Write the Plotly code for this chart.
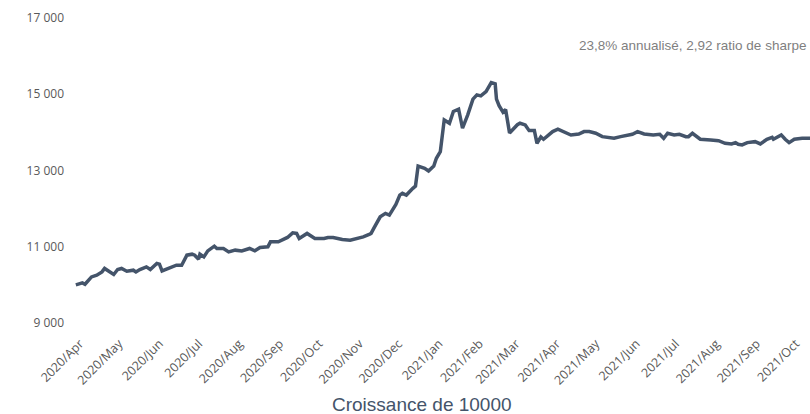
import plotly.graph_objects as go

dates = [
    "2020-04-01", "2020-04-06", "2020-04-08", "2020-04-13", "2020-04-17", "2020-04-21", "2020-04-23",
    "2020-04-27", "2020-04-30", "2020-05-03", "2020-05-06", "2020-05-10", "2020-05-15", "2020-05-17",
    "2020-05-20", "2020-05-25", "2020-05-28", "2020-06-02", "2020-06-04", "2020-06-06", "2020-06-12",
    "2020-06-17", "2020-06-21", "2020-06-25", "2020-06-29", "2020-07-01", "2020-07-04", "2020-07-05",
    "2020-07-08", "2020-07-11", "2020-07-16", "2020-07-18", "2020-07-23", "2020-07-27", "2020-08-01",
    "2020-08-06", "2020-08-12", "2020-08-16", "2020-08-20", "2020-08-26", "2020-08-28", "2020-09-03",
    "2020-09-10", "2020-09-14", "2020-09-17", "2020-09-19", "2020-09-25", "2020-10-01", "2020-10-08",
    "2020-10-11", "2020-10-15", "2020-10-22", "2020-10-28", "2020-11-03", "2020-11-07", "2020-11-12",
    "2020-11-13", "2020-11-16", "2020-11-20", "2020-11-24", "2020-11-27", "2020-12-02", "2020-12-05",
    "2020-12-07", "2020-12-10", "2020-12-15", "2020-12-17", "2020-12-19", "2020-12-24", "2020-12-27",
    "2020-12-31", "2021-01-02", "2021-01-05", "2021-01-08", "2021-01-12", "2021-01-15", "2021-01-19",
    "2021-01-22", "2021-01-26", "2021-01-30", "2021-02-02", "2021-02-05", "2021-02-09", "2021-02-13",
    "2021-02-16", "2021-02-17", "2021-02-19", "2021-02-22", "2021-02-24", "2021-02-27", "2021-03-02",
    "2021-03-05", "2021-03-07", "2021-03-11", "2021-03-14", "2021-03-18", "2021-03-20", "2021-03-23",
    "2021-03-25", "2021-03-29", "2021-04-01", "2021-04-05", "2021-04-09", "2021-04-15", "2021-04-21",
    "2021-04-25", "2021-04-29", "2021-05-04", "2021-05-09", "2021-05-18", "2021-05-23", "2021-05-28",
    "2021-06-01", "2021-06-05", "2021-06-10", "2021-06-17", "2021-06-22", "2021-06-25", "2021-06-28",
    "2021-07-03", "2021-07-07", "2021-07-12", "2021-07-14", "2021-07-17", "2021-07-23", "2021-07-31",
    "2021-08-06", "2021-08-11", "2021-08-16", "2021-08-19", "2021-08-21", "2021-08-24", "2021-08-28",
    "2021-09-03", "2021-09-07", "2021-09-12", "2021-09-16", "2021-09-17", "2021-09-20", "2021-09-23",
    "2021-09-26", "2021-09-29", "2021-10-03", "2021-10-09", "2021-10-15",
]

values = [
    10000, 10051, 10017, 10209, 10253, 10340, 10430,
    10340, 10272, 10403, 10430, 10359, 10385, 10340,
    10403, 10472, 10403, 10561, 10543, 10367, 10456,
    10516, 10516, 10779, 10805, 10779, 10674, 10805,
    10735, 10892, 11016, 10955, 10955, 10866, 10911,
    10892, 10955, 10892, 10981, 10997, 11129, 11129,
    11244, 11365, 11349, 11218, 11349, 11218, 11218,
    11244, 11244, 11192, 11173, 11218, 11260, 11331,
    11349, 11541, 11786, 11875, 11830, 12110, 12356,
    12401, 12356, 12532, 12593, 13118, 13058, 12987,
    13118, 13320, 13494, 14327, 14240, 14547, 14608,
    14109, 14458, 14871, 14984, 14958, 15071, 15307,
    15273, 14871, 14700, 14530, 14600, 13985, 14095,
    14200, 14240, 14196, 14046, 14046, 13714, 13880,
    13820, 13950, 14020, 14082, 14030, 13930, 13955,
    14020, 14020, 13977, 13888, 13846, 13888, 13920,
    13951, 14020, 13959, 13933, 13951, 13846, 13977,
    13933, 13951, 13888, 13888, 13977, 13820, 13802,
    13783, 13714, 13696, 13731, 13688, 13670, 13731,
    13757, 13696, 13820, 13872, 13820, 13872, 13933,
    13820, 13731, 13820, 13846, 13846,
]

y_ticks = [9000, 11000, 13000, 15000, 17000]
title_text = "Croissance de 10000"
note_text = "23,8% annualisé, 2,92 ratio de sharpe"

W, H = 810, 414
ML, MR, MT, MB = 68, 0, 18, 91

fig = go.Figure()
fig.add_trace(go.Scatter(
    x=dates, y=values, mode="lines",
    line=dict(color="#44546A", width=3.5),
    hoverinfo="x+y", showlegend=False,
))

fig.update_layout(
    width=W, height=H,
    margin=dict(l=ML, r=MR, t=MT, b=MB, pad=0),
    paper_bgcolor="white", plot_bgcolor="white",
    separators=", ",
    xaxis=dict(
        type="date",
        range=["2020-03-26", dates[-1]],
        tick0="2020-04-01", dtick="M1",
        tickformat="%Y/%b", tickangle=-45,
        showgrid=False, zeroline=False, showline=False,
        ticks="", tickfont=dict(family="Open Sans", size=12.5, color="#595959"),
        automargin=False, ticklabelstandoff=10, ticklabelshift=4,
    ),
    yaxis=dict(
        range=[9000, 17000],
        tickvals=y_ticks, tickformat=",d",
        showgrid=False, zeroline=False, showline=False,
        ticks="", tickfont=dict(family="Open Sans", size=12, color="#595959"),
        automargin=False, ticklabelstandoff=3,
    ),
    annotations=[
        dict(text=note_text, xref="paper", yref="paper",
             x=(808 - ML) / (W - ML - MR), y=(H - MB - 45) / (H - MT - MB),
             xanchor="right", yanchor="middle", showarrow=False,
             font=dict(family="Liberation Sans", size=13.5, color="#7F7F7F")),
        dict(text=title_text, xref="paper", yref="paper",
             x=(422 - ML) / (W - ML - MR), y=(H - MB - 404) / (H - MT - MB),
             xanchor="center", yanchor="middle", showarrow=False,
             font=dict(family="Liberation Sans", size=19, color="#44546A")),
    ],
)

fig.write_html(
    "out.html",
    config={"displayModeBar": False},
    post_script="document.body.style.margin='0';document.body.style.padding='0';",
)
